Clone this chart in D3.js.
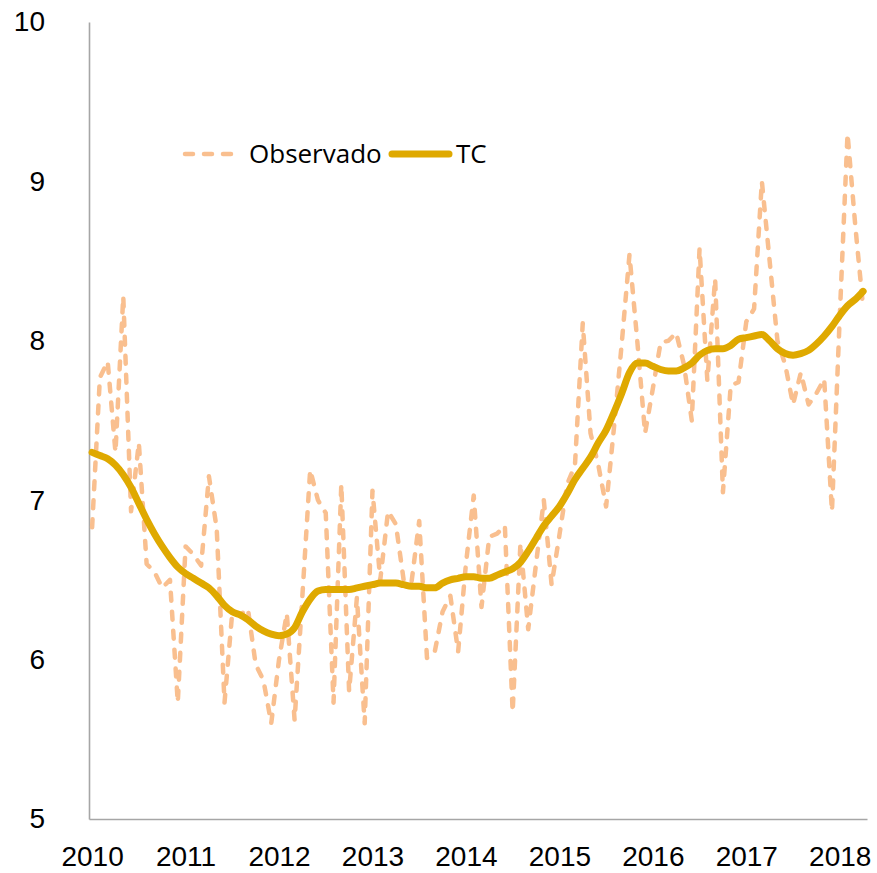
<!DOCTYPE html>
<html>
<head>
  <meta charset="utf-8">
  <script src="https://d3js.org/d3.v7.min.js"></script>
  <style>
    body { margin: 0; background: #fff; }
    svg { display: block; font-family: "Open Sans", sans-serif; }
    .axis .domain { stroke: #a6a6a6; stroke-width: 1.6px; }
    .axis text { fill: #000; font-size: 28px; }
    .legend text { font-size: 26px; fill: #000; }
  </style>
</head>
<body>
<svg width="877" height="873"></svg>

<script>
// tick labels, one per January
var years = ["2010", "2011", "2012", "2013", "2014", "2015", "2016", "2017", "2018"];
var yTicks = [5, 6, 7, 8, 9, 10];

// monthly series, Jan 2010 - Apr 2018
var observado = [
  6.83, 7.77, 7.87, 7.30, 8.28, 6.93, 7.36, 6.60, 6.55, 6.45, 6.50, 5.73,
  6.71, 6.66, 6.59, 7.15, 6.82, 5.73, 6.30, 6.28, 6.32, 5.97, 5.87, 5.60,
  6.00, 6.29, 5.62, 6.40, 7.19, 7.00, 6.92, 5.73, 7.10, 5.80, 6.39, 5.60,
  7.06, 6.50, 6.93, 6.85, 6.50, 6.48, 6.87, 6.01, 6.05, 6.30, 6.40, 6.05,
  6.60, 7.03, 6.33, 6.77, 6.79, 6.84, 5.67, 6.73, 6.19, 6.60, 7.00, 6.47,
  6.78, 7.10, 7.22, 8.11, 7.42, 7.22, 6.96, 7.45, 7.98, 8.54, 8.00, 7.42,
  7.70, 7.99, 8.00, 8.05, 7.85, 7.50, 8.58, 7.75, 8.39, 7.05, 7.72, 7.74,
  8.12, 8.20, 9.00, 8.50, 8.00, 7.85, 7.60, 7.80, 7.60, 7.67, 7.76, 6.93,
  8.15, 9.30, 8.72, 8.21
];

var tc = [
  7.30, 7.28, 7.26, 7.22, 7.16, 7.08, 6.98, 6.88, 6.79, 6.71, 6.64, 6.58,
  6.54, 6.51, 6.48, 6.45, 6.40, 6.34, 6.30, 6.28, 6.25, 6.21, 6.18, 6.16,
  6.15, 6.16, 6.20, 6.30, 6.38, 6.43, 6.44, 6.44, 6.44, 6.44, 6.45, 6.46,
  6.47, 6.48, 6.48, 6.48, 6.47, 6.46, 6.46, 6.45, 6.45, 6.48, 6.50, 6.51,
  6.52, 6.52, 6.51, 6.51, 6.53, 6.55, 6.57, 6.61, 6.68, 6.76, 6.84, 6.90,
  6.96, 7.04, 7.13, 7.20, 7.27, 7.36, 7.44, 7.55, 7.67, 7.80, 7.86, 7.86,
  7.84, 7.82, 7.81, 7.81, 7.83, 7.86, 7.91, 7.94, 7.95, 7.95, 7.97, 8.01,
  8.02, 8.03, 8.04, 8.00, 7.95, 7.92, 7.91, 7.92, 7.94, 7.98, 8.03, 8.09,
  8.16, 8.22, 8.26, 8.31
];

var svg = d3.select("svg");

// month index scale, axis starts a little before the first point
var x = d3.scaleLinear()
    .domain([-0.4, observado.length - 0.5])
    .range([89, 867]);

var y = d3.scaleLinear()
    .domain([5, 10])
    .range([819, 22]);

// axes
svg.append("g")
    .attr("class", "axis")
    .attr("transform", "translate(0," + y(5) + ")")
    .call(d3.axisBottom(x)
        .tickValues(years.map(function(d, i) { return i * 12; }))
        .tickFormat(function(d) { return years[d / 12]; })
        .tickSize(0)
        .tickPadding(27));

svg.append("g")
    .attr("class", "axis")
    .attr("transform", "translate(" + x.range()[0] + ",0)")
    .call(d3.axisLeft(y)
        .tickValues(yTicks)
        .tickFormat(d3.format("d"))
        .tickSize(0)
        .tickPadding(44));

// lines
var obsLine = d3.line()
    .x(function(d, i) { return x(i); })
    .y(function(d) { return y(d); });

var tcLine = d3.line()
    .x(function(d, i) { return x(i); })
    .y(function(d) { return y(d); })
    .curve(d3.curveMonotoneX);

svg.append("path")
    .datum(observado)
    .attr("fill", "none")
    .attr("stroke", "#f9bf8f")
    .attr("stroke-width", 4.5)
    .attr("stroke-dasharray", "8,11")
    .attr("stroke-linecap", "round")
    .attr("stroke-linejoin", "round")
    .attr("d", obsLine);

svg.append("path")
    .datum(tc)
    .attr("fill", "none")
    .attr("stroke", "#dfa900")
    .attr("stroke-width", 7)
    .attr("stroke-linecap", "round")
    .attr("stroke-linejoin", "round")
    .attr("d", tcLine);

// legend
var legend = svg.append("g").attr("class", "legend");

legend.append("line")
    .attr("x1", 185).attr("x2", 240)
    .attr("y1", 154).attr("y2", 154)
    .attr("stroke", "#f9bf8f")
    .attr("stroke-width", 4.5)
    .attr("stroke-dasharray", "8,11")
    .attr("stroke-linecap", "round");

legend.append("text")
    .attr("x", 249).attr("y", 163)
    .text("Observado");

legend.append("line")
    .attr("x1", 392).attr("x2", 449)
    .attr("y1", 154).attr("y2", 154)
    .attr("stroke", "#dfa900")
    .attr("stroke-width", 7)
    .attr("stroke-linecap", "round");

legend.append("text")
    .attr("x", 456).attr("y", 163)
    .text("TC");
</script>
</body>
</html>
